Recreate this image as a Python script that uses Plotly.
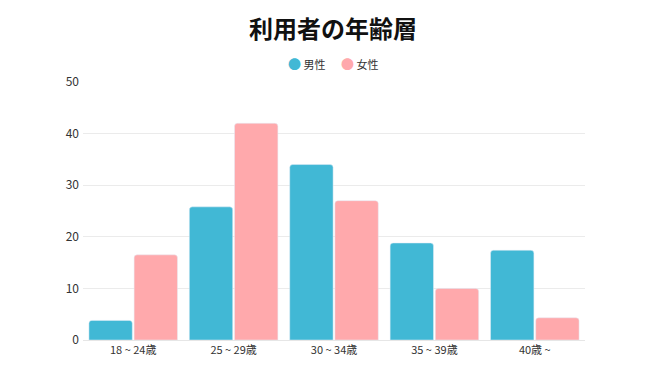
import plotly.graph_objects as go

categories = ["18 ~ 24歳", "25 ~ 29歳", "30 ~ 34歳", "35 ~ 39歳", "40歳 ~"]
male = [3.8, 25.8, 34.0, 18.8, 17.4]
female = [16.5, 42.0, 27.0, 10.0, 4.3]
series_names = ["男性", "女性"]
y_ticks = [0, 10, 20, 30, 40, 50]

BLUE = "#41B8D5"
PINK = "#FFA9AC"
FONT = "Noto Sans CJK JP"

fig = go.Figure()
fig.add_trace(go.Bar(x=categories, y=male, name=series_names[0],
                     marker_color=BLUE, showlegend=False))
fig.add_trace(go.Bar(x=categories, y=female, name=series_names[1],
                     marker_color=PINK, showlegend=False))

# legend drawn as text with circle glyphs
legend_items = [(series_names[0], BLUE, 0.404), (series_names[1], PINK, 0.509)]
for name, col, xp in legend_items:
    fig.add_annotation(
        x=xp, y=1.07, xref="paper", yref="paper", xanchor="left",
        yanchor="middle", showarrow=False,
        text=f"<span style='color:{col};font-size:13px'>●</span> {name}",
        font=dict(family=FONT, size=11, color="#333"),
    )

fig.update_layout(
    width=650, height=366,
    paper_bgcolor="white", plot_bgcolor="white",
    margin=dict(l=75, r=73, t=74, b=34),
    font=dict(family=FONT, size=11, color="#444"),
    title=dict(text="<b>利用者の年齢層</b>", x=0.5, xanchor="center",
               y=0.94, yanchor="middle",
               font=dict(family=FONT, size=24, color="#111")),
    showlegend=False,
    barmode="group", bargap=0.1, bargroupgap=0.04,
    barcornerradius=3,
)
fig.update_xaxes(showgrid=False, showline=True, linecolor="#e6e6e6",
                 linewidth=1, ticks="", tickfont=dict(size=11, color="#333"),
                 fixedrange=True)
fig.update_yaxes(range=[0, 50], tickvals=y_ticks, showgrid=True,
                 gridcolor="#ebebeb", gridwidth=1, zeroline=False,
                 ticks="", ticklabelstandoff=3,
                 tickfont=dict(size=12, color="#333"), fixedrange=True)

fig.write_html("out.html")
